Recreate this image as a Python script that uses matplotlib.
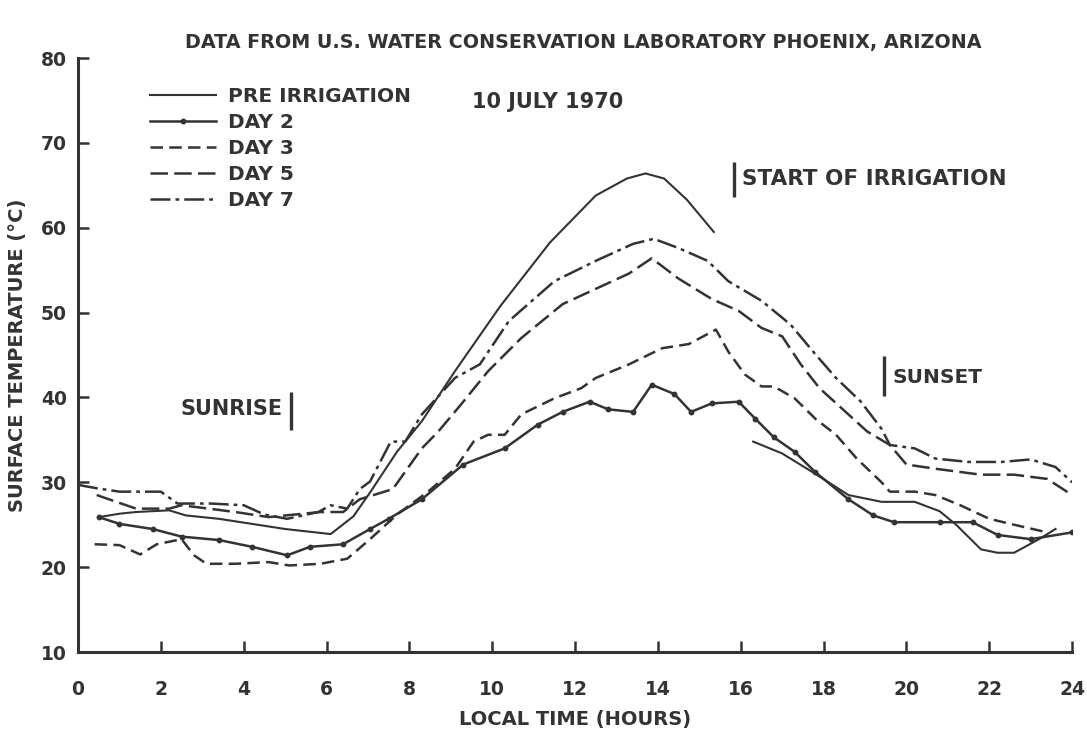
import numpy as np
import matplotlib
matplotlib.use("Agg")
import matplotlib.pyplot as plt

# ---------------- data ----------------
nan = np.nan
pre_hours = [0.5, 1.0, 1.4, 2.2, 2.6, 3.4, 4.2, 5.0, 6.1, 6.65, 7.05, 7.7, 8.3, 9.1,
             10.2, 11.4, 12.5, 13.25, 13.7, 14.15, 14.7, 15.35, nan,
             16.3, 17.0, 17.8, 18.6, 19.4, 20.2, 20.8, 21.2, 21.8, 22.2, 22.6, 23.2, 23.6]
pre_temp = [25.9, 26.3, 26.5, 26.7, 26.1, 25.7, 25.1, 24.5, 23.9, 26.0, 28.8, 33.6, 37.2, 43.1,
            50.8, 58.3, 63.8, 65.8, 66.4, 65.8, 63.3, 59.5, nan,
            34.8, 33.4, 31.0, 28.5, 27.7, 27.7, 26.6, 25.0, 22.1, 21.7, 21.7, 23.3, 24.5]

day2_hours = [0.5, 1.0, 1.8, 2.5, 3.4, 4.2, 5.05, 5.6, 6.4, 7.05, 7.5, 8.3, 9.3, 10.3, 11.1,
              11.7, 12.35, 12.8, 13.4, 13.85, 14.4, 14.8, 15.3, 15.95, 16.35, 16.8, 17.3,
              17.8, 18.6, 19.2, 19.7, 20.8, 21.6, 22.2, 23.0, 24.0]
day2_temp = [25.9, 25.1, 24.5, 23.6, 23.2, 22.4, 21.4, 22.4, 22.7, 24.5, 25.7, 28.0, 32.1, 34.0, 36.8,
             38.3, 39.5, 38.6, 38.3, 41.5, 40.4, 38.3, 39.3, 39.5, 37.5, 35.3, 33.6,
             31.2, 28.0, 26.1, 25.3, 25.3, 25.3, 23.8, 23.3, 24.1]

day3_hours = [0.4, 1.0, 1.5, 1.9, 2.5, 2.8, 3.1, 3.8, 4.6, 5.1, 5.85, 6.5, 7.05, 7.7, 8.45,
              9.1, 9.55, 9.9, 10.3, 10.7, 11.5, 12.15, 12.5, 13.3, 14.1, 14.75, 15.4, 15.7,
              16.1, 16.5, 16.8, 17.3, 17.8, 18.3, 18.8, 19.4, 19.6, 20.2, 20.7, 21.3, 22.0,
              22.6, 23.4]
day3_temp = [22.7, 22.6, 21.5, 22.7, 23.3, 21.4, 20.4, 20.4, 20.6, 20.2, 20.4, 21.0, 23.3, 26.2, 28.9,
             31.6, 34.8, 35.6, 35.6, 38.0, 39.9, 41.1, 42.3, 43.9, 45.8, 46.3, 48.0, 45.4,
             42.7, 41.3, 41.3, 39.9, 37.5, 35.6, 32.8, 30.0, 28.9, 28.9, 28.5, 27.3, 25.7,
             25.0, 24.1]

day5_hours = [0.45, 1.4, 2.2, 2.5, 3.8, 4.6, 5.85, 6.4, 6.8, 7.6, 8.3, 8.7, 9.25, 9.9, 10.7,
              11.7, 12.5, 13.3, 13.85, 14.5, 15.3, 15.95, 16.5, 17.0, 17.45, 17.9, 18.6,
              19.05, 19.6, 20.0, 20.7, 21.8, 22.6, 23.4, 24.0]
day5_temp = [28.5, 26.9, 26.9, 27.3, 26.5, 25.9, 26.5, 26.5, 28.0, 29.2, 34.0, 36.0, 39.2, 43.1, 47.0,
             51.0, 52.8, 54.6, 56.4, 54.0, 51.6, 50.2, 48.2, 47.2, 43.9, 41.1, 38.0,
             36.0, 34.4, 32.1, 31.6, 30.9, 30.9, 30.4, 28.5]

day7_hours = [0.0, 0.45, 1.0, 2.0, 2.4, 3.2, 4.0, 4.5, 5.05, 5.8, 6.1, 6.5, 6.8, 7.05, 7.55,
              7.9, 8.3, 9.1, 9.7, 10.4, 11.5, 12.5, 13.4, 13.9, 14.5, 15.2, 15.7, 16.5,
              17.2, 17.8, 18.3, 18.9, 19.4, 19.6, 20.2, 20.7, 21.5, 22.3, 23.0, 23.6, 24.0]
day7_temp = [29.7, 29.3, 28.9, 28.9, 27.5, 27.5, 27.3, 26.2, 25.7, 26.5, 27.3, 26.9, 29.2, 30.1, 34.8,
             34.8, 38.0, 42.3, 43.9, 49.0, 53.7, 56.1, 58.1, 58.7, 57.6, 56.1, 53.7, 51.4,
             48.6, 45.1, 42.3, 39.5, 36.3, 34.4, 34.0, 32.8, 32.4, 32.4, 32.7, 31.8, 30.0]

series_labels = ["PRE IRRIGATION", "DAY 2", "DAY 3", "DAY 5", "DAY 7"]
x_ticks = [0, 2, 4, 6, 8, 10, 12, 14, 16, 18, 20, 22, 24]
y_ticks = [10, 20, 30, 40, 50, 60, 70, 80]

sunrise_h = 5.13
irrigation_h = 15.83
sunset_h = 19.47

# ---------------- drawing ----------------
INK = "#333333"
plt.rcParams["font.family"] = ["DejaVu Sans"]

fig = plt.figure(figsize=(10.87, 7.30), dpi=100)
ax = fig.add_axes([0.0718, 0.1068, 0.9145, 0.8137])

lw = 1.8
ax.plot(pre_hours, pre_temp, color=INK, lw=1.5, ls="-", label=series_labels[0])
ax.plot(day2_hours, day2_temp, color=INK, lw=lw, ls="-", marker="o", ms=3.2,
        label=series_labels[1])
ax.plot(day3_hours, day3_temp, color=INK, lw=lw, dashes=(5, 2.5), label=series_labels[2])
ax.plot(day5_hours, day5_temp, color=INK, lw=lw, dashes=(7, 2.5), label=series_labels[3])
ax.plot(day7_hours, day7_temp, color=INK, lw=lw, dashes=(8, 2, 1.5, 2), label=series_labels[4])

ax.set_xlim(0, 24)
ax.set_ylim(10, 80)
ax.set_xticks(x_ticks)
ax.set_yticks(y_ticks)
ax.spines["top"].set_visible(False)
ax.spines["right"].set_visible(False)
for s in ("left", "bottom"):
    ax.spines[s].set_linewidth(2.2)
    ax.spines[s].set_color(INK)
ax.tick_params(direction="in", length=8, width=1.8, color=INK,
               labelsize=13.5, labelcolor=INK)
ax.tick_params(axis="x", pad=20)
ax.tick_params(axis="y", pad=8)
for lab in ax.get_xticklabels() + ax.get_yticklabels():
    lab.set_fontweight("bold")

ax.set_xlabel("LOCAL TIME (HOURS)", fontsize=14, fontweight="bold", color=INK, labelpad=8)
ax.set_ylabel("SURFACE TEMPERATURE (°C)", fontsize=14, fontweight="bold", color=INK,
              labelpad=10)

fig.text(0.537, 0.942, "DATA FROM U.S. WATER CONSERVATION LABORATORY PHOENIX, ARIZONA",
         ha="center", va="center", fontsize=13.8, fontweight="bold", color=INK)

leg = ax.legend(loc="upper left", bbox_to_anchor=(0.058, 0.975), frameon=False,
                handlelength=3.3, handletextpad=0.6, labelspacing=0.35,
                prop={"size": 14.5, "weight": "bold"}, labelcolor=INK, borderpad=0.2)

ax.text(9.5, 74.8, "10 JULY 1970", fontsize=15, fontweight="bold", color=INK,
        ha="left", va="center")

# event markers
ax.vlines(sunrise_h, 36.2, 40.7, color=INK, lw=2.4)
ax.text(sunrise_h - 0.2, 38.6, "SUNRISE", ha="right", va="center",
        fontsize=15, fontweight="bold", color=INK)
ax.vlines(irrigation_h, 63.6, 67.8, color=INK, lw=2.4)
ax.text(irrigation_h + 0.2, 65.8, "START OF IRRIGATION", ha="left", va="center",
        fontsize=15.5, fontweight="bold", color=INK)
ax.vlines(sunset_h, 40.2, 44.9, color=INK, lw=2.4)
ax.text(sunset_h + 0.2, 42.4, "SUNSET", ha="left", va="center",
        fontsize=14.5, fontweight="bold", color=INK)

fig.savefig("out.png", dpi=100, facecolor="white")
